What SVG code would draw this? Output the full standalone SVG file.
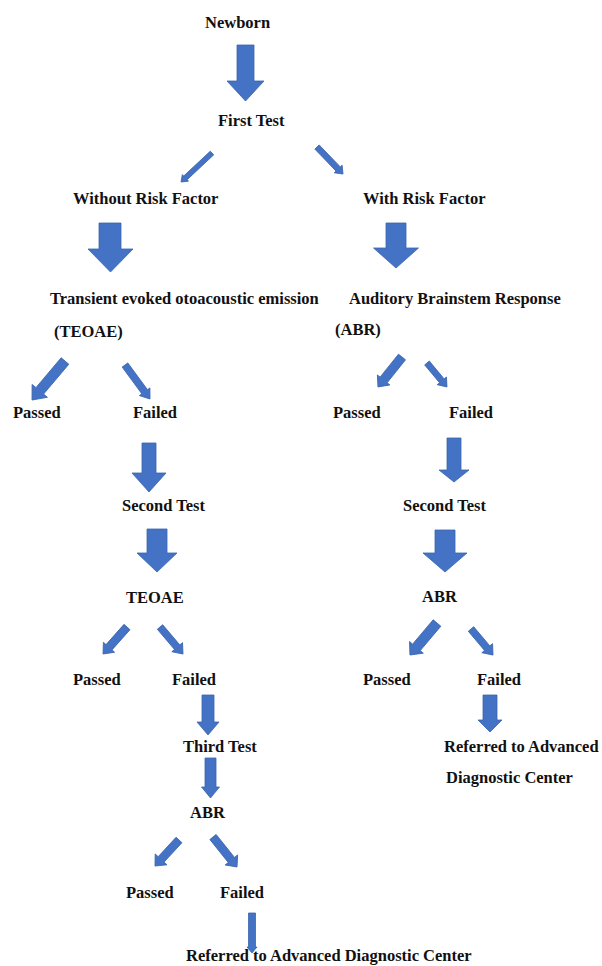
<svg xmlns="http://www.w3.org/2000/svg" width="602" height="966" viewBox="0 0 602 966">
<style>
.t{font-family:"Liberation Serif","Times New Roman",serif;font-weight:bold;font-size:16.5px;fill:#111}
.a{fill:#4472C4;stroke:#3A64AE;stroke-width:0.8;stroke-linejoin:miter}
</style>
<rect width="602" height="966" fill="#fff"/>
<g id="connectors">
<polygon class="a" points="237,45 254,45 254,81 264,81 245.5,101 227,81 237,81"/>
<path class="a" d="M0,-2.5 L36.4,-2.5 L36.4,-4.5 L42.4,0 L36.4,4.5 L36.4,2.5 L0,2.5Z" transform="translate(212,153) rotate(136.9)"/>
<path class="a" d="M0,-3 L30.5,-3 L30.5,-5.5 L37.5,0 L30.5,5.5 L30.5,3 L0,3Z" transform="translate(317,147) rotate(46.1)"/>
<polygon class="a" points="99,223 121,223 121,249 133,249 110.5,272 88,249 99,249"/>
<polygon class="a" points="386,223 406,223 406,248 418.5,248 396,268 373.5,248 386,248"/>
<path class="a" d="M0,-5 L39.1,-5 L39.1,-10 L51.1,0 L39.1,10 L39.1,5 L0,5Z" transform="translate(65,361) rotate(130.2)"/>
<path class="a" d="M0,-3.5 L33.2,-3.5 L33.2,-6.5 L42.2,0 L33.2,6.5 L33.2,3.5 L0,3.5Z" transform="translate(125,365) rotate(53.7)"/>
<path class="a" d="M0,-4.5 L29.4,-4.5 L29.4,-8 L38.4,0 L29.4,8 L29.4,4.5 L0,4.5Z" transform="translate(402,357) rotate(128.7)"/>
<path class="a" d="M0,-3 L23.2,-3 L23.2,-6 L31.2,0 L23.2,6 L23.2,3 L0,3Z" transform="translate(427,363) rotate(50.2)"/>
<polygon class="a" points="142,443 156,443 156,473 166,473 149,492 132,473 142,473"/>
<polygon class="a" points="147,529 167,529 167,553 177,553 157,572 137,553 147,553"/>
<polygon class="a" points="447,438 461,438 461,470 469,470 454,482 439,470 447,470"/>
<polygon class="a" points="435,530 455,530 455,553 467,553 445,572 423,553 435,553"/>
<path class="a" d="M0,-4 L27.1,-4 L27.1,-7.5 L36.1,0 L27.1,7.5 L27.1,4 L0,4Z" transform="translate(127,627) rotate(131.6)"/>
<path class="a" d="M0,-3.5 L26.5,-3.5 L26.5,-7 L35.5,0 L26.5,7 L26.5,3.5 L0,3.5Z" transform="translate(160,627) rotate(49.6)"/>
<path class="a" d="M0,-5 L31.9,-5 L31.9,-9 L41.9,0 L31.9,9 L31.9,5 L0,5Z" transform="translate(437,623) rotate(130.2)"/>
<path class="a" d="M0,-3.5 L25.1,-3.5 L25.1,-7 L34.1,0 L25.1,7 L25.1,3.5 L0,3.5Z" transform="translate(471,629) rotate(49.8)"/>
<polygon class="a" points="483,695 497,695 497,720 502,720 490,732 478,720 483,720"/>
<polygon class="a" points="202,695 214,695 214,722 219,722 208,735 197,722 202,722"/>
<polygon class="a" points="205,758 216,758 216,787 219.5,787 210.5,798 201.5,787 205,787"/>
<path class="a" d="M0,-4 L26.4,-4 L26.4,-8 L35.4,0 L26.4,8 L26.4,4 L0,4Z" transform="translate(179,840) rotate(132.7)"/>
<path class="a" d="M0,-4 L29.4,-4 L29.4,-8 L38.4,0 L29.4,8 L29.4,4 L0,4Z" transform="translate(213,837) rotate(51.3)"/>
<polygon class="a" points="248.5,913 255.5,913 255.5,947 257,947 252,953 247,947 248.5,947"/>
</g>
<g id="newborn"><text class="t" x="205" y="28">Newborn</text></g>
<g id="first-test"><text class="t" x="218" y="126">First Test</text></g>
<g id="without-risk"><text class="t" x="73" y="204">Without Risk Factor</text></g>
<g id="with-risk"><text class="t" x="363" y="204">With Risk Factor</text></g>
<g id="teoae-1"><text class="t" x="50" y="304">Transient evoked otoacoustic emission</text><text class="t" x="54" y="337">(TEOAE)</text></g>
<g id="abr-1"><text class="t" x="349" y="304">Auditory Brainstem Response</text><text class="t" x="335" y="335">(ABR)</text></g>
<g id="passed-l1"><text class="t" x="13" y="418">Passed</text></g>
<g id="failed-l1"><text class="t" x="133" y="418">Failed</text></g>
<g id="passed-r1"><text class="t" x="333" y="418">Passed</text></g>
<g id="failed-r1"><text class="t" x="449" y="418">Failed</text></g>
<g id="second-test-l"><text class="t" x="122" y="511">Second Test</text></g>
<g id="second-test-r"><text class="t" x="403" y="511">Second Test</text></g>
<g id="teoae-2"><text class="t" x="126" y="603">TEOAE</text></g>
<g id="abr-2"><text class="t" x="422" y="602">ABR</text></g>
<g id="passed-l2"><text class="t" x="73" y="685">Passed</text></g>
<g id="failed-l2"><text class="t" x="172" y="685">Failed</text></g>
<g id="passed-r2"><text class="t" x="363" y="685">Passed</text></g>
<g id="failed-r2"><text class="t" x="477" y="685">Failed</text></g>
<g id="referred-r"><text class="t" x="444" y="752">Referred to Advanced</text><text class="t" x="446" y="783">Diagnostic Center</text></g>
<g id="third-test"><text class="t" x="183" y="752">Third Test</text></g>
<g id="abr-3"><text class="t" x="190" y="818">ABR</text></g>
<g id="passed-l3"><text class="t" x="126" y="898">Passed</text></g>
<g id="failed-l3"><text class="t" x="220" y="898">Failed</text></g>
<g id="referred-l"><text class="t" x="186" y="961">Referred to Advanced Diagnostic Center</text></g>
</svg>
